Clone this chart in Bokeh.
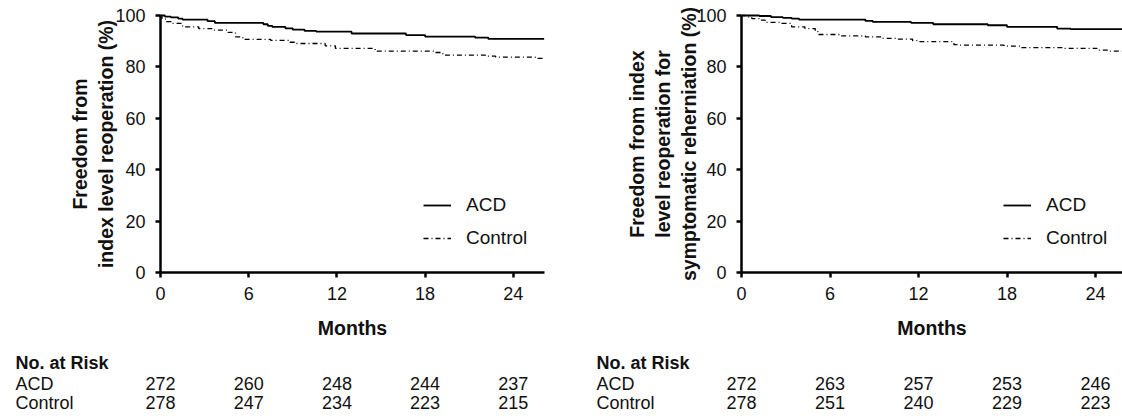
from bokeh.plotting import figure
from bokeh.models import Range1d, Legend, LegendItem, ColumnDataSource
from bokeh.layouts import row
from bokeh.core.properties import value
from bokeh.embed import file_html
from bokeh.resources import INLINE

# ---------------- data ----------------
months_ticks = [0, 6, 12, 18, 24]
y_ticks = [0, 20, 40, 60, 80, 100]

# Panel A: freedom from index level reoperation (%)
a_acd_t = [0, 0.3, 0.7, 1.2, 1.5, 3.2, 3.7, 7.0, 7.3, 7.6, 8.5, 9.0, 9.8, 10.6, 13.0, 16.7, 18.0, 21.4, 22.3, 26.1]
a_acd_s = [100, 99.6, 99.3, 98.8, 98.4, 97.8, 97.1, 96.6, 96.0, 95.6, 95.0, 94.5, 94.0, 93.7, 93.0, 92.4, 91.8, 91.4, 90.9, 90.9]
a_ctl_t = [0, 0.1, 0.4, 0.8, 1.5, 2.6, 3.5, 4.6, 5.1, 5.6, 7.5, 8.8, 9.2, 11.2, 11.9, 14.6, 18.6, 19.2, 22.1, 22.8, 25.5, 26.1]
a_ctl_s = [100, 98.6, 97.6, 96.9, 95.6, 94.9, 94.3, 93.4, 91.7, 90.7, 90.3, 89.6, 89.1, 88.2, 87.2, 86.1, 85.6, 84.6, 84.2, 83.8, 83.3, 83.3]
a_risk_acd = [272, 260, 248, 244, 237]
a_risk_ctl = [278, 247, 234, 223, 215]

# Panel B: freedom from index level reoperation for symptomatic reherniation (%)
b_acd_t = [0, 1.2, 2.0, 2.8, 3.4, 3.9, 8.4, 8.9, 11.5, 13.0, 16.7, 18.0, 21.4, 22.3, 25.9]
b_acd_s = [100, 99.8, 99.4, 99.1, 98.8, 98.4, 97.9, 97.5, 97.1, 96.6, 96.2, 95.6, 94.9, 94.7, 94.7]
b_ctl_t = [0, 0.3, 0.7, 1.2, 1.6, 2.6, 3.4, 4.3, 5.0, 5.2, 6.6, 8.4, 9.5, 10.6, 11.6, 12.1, 14.4, 14.8, 17.8, 18.9, 21.8, 24.1, 25.0, 25.9]
b_ctl_s = [100, 99.5, 98.8, 98.2, 97.3, 96.9, 95.6, 94.9, 93.7, 92.6, 92.1, 91.7, 91.1, 90.8, 90.2, 89.8, 88.7, 88.5, 88.1, 87.5, 87.2, 86.5, 86.1, 86.1]
b_risk_acd = [272, 263, 257, 253, 246]
b_risk_ctl = [278, 251, 240, 229, 223]

series_names = ["ACD", "Control"]
risk_header = "No. at Risk"
x_label = "Months"

FONT = "Liberation Sans"
TXT = "#111111"

H = 416          # figure height (px)
Y0_PX = 272      # pixel row of y = 0
Y_SCALE = 2.57   # px per percentage point


def make_panel(width, origin_px, x_scale, axis_end, ylabel, ylabel_standoff,
               acd_t, acd_s, ctl_t, ctl_s, risk_acd, risk_ctl, legend_x):
    x0 = -origin_px / x_scale
    x1 = (width - origin_px) / x_scale
    y_top = Y0_PX / Y_SCALE
    y_bot = -(H - Y0_PX) / Y_SCALE
    p = figure(width=width, height=H, output_backend="svg", toolbar_location=None,
               x_range=Range1d(x0, x1), y_range=Range1d(y_bot, y_top),
               min_border=0, min_border_left=0, min_border_right=0,
               min_border_top=0, min_border_bottom=0)
    p.outline_line_color = None
    p.xgrid.visible = False
    p.ygrid.visible = False

    r1 = p.step(acd_t, acd_s, mode="after", line_color="black", line_width=1.8)
    r2 = p.step(ctl_t, ctl_s, mode="after", line_color="black", line_width=1.3,
                line_dash="5 3 1 3")

    for ax in (p.xaxis, p.yaxis):
        ax.fixed_location = 0
        ax.axis_line_width = 2.5
        ax.axis_line_color = "black"
        ax.major_tick_line_width = 2.5
        ax.major_tick_line_color = "black"
        ax.major_tick_out = 5
        ax.major_tick_in = 0
        ax.minor_tick_line_color = None
        ax.major_label_text_font = FONT
        ax.major_label_text_font_size = "18px"
        ax.major_label_text_color = TXT
        ax.axis_label_text_font = FONT
        ax.axis_label_text_font_style = "bold"
        ax.axis_label_text_font_size = "19.5px"
        ax.axis_label_text_color = TXT
    p.xaxis.bounds = (0, axis_end)
    p.yaxis.bounds = (0, 100)
    p.xaxis.ticker = months_ticks
    p.yaxis.ticker = y_ticks
    p.xaxis.major_label_standoff = 9
    p.yaxis.major_label_standoff = 10
    p.xaxis.axis_label = x_label
    p.xaxis.axis_label_standoff = 14
    p.yaxis.axis_label = ylabel
    p.yaxis.axis_label_standoff = ylabel_standoff

    legend = Legend(items=[LegendItem(label=series_names[0], renderers=[r1]),
                           LegendItem(label=series_names[1], renderers=[r2])],
                    location=(legend_x, H - 249))
    legend.border_line_color = None
    legend.background_fill_alpha = 0
    legend.padding = 0
    legend.margin = 0
    legend.glyph_width = 28
    legend.glyph_height = 20
    legend.label_height = 20
    legend.label_standoff = 15
    legend.spacing = 11
    legend.label_text_font = FONT
    legend.label_text_font_size = "19px"
    legend.label_text_color = TXT
    p.add_layout(legend)

    # number-at-risk table under the time axis
    rows_y = [(Y0_PX - r) / Y_SCALE for r in (362, 383, 402)]
    row_x = (origin_px - 145 - origin_px) / x_scale
    p.text(x=[row_x], y=[rows_y[0]], text=[risk_header], text_font=value(FONT),
           text_font_size=value("18px"), text_font_style="bold", text_color=TXT,
           text_baseline="middle", text_align="left")
    p.text(x=[row_x, row_x], y=rows_y[1:], text=series_names, text_font=value(FONT),
           text_font_size=value("18px"), text_color=TXT,
           text_baseline="middle", text_align="left")
    src = ColumnDataSource(dict(
        x=months_ticks + months_ticks,
        y=[rows_y[1]] * len(months_ticks) + [rows_y[2]] * len(months_ticks),
        txt=[str(v) for v in risk_acd] + [str(v) for v in risk_ctl]))
    p.text(x="x", y="y", text="txt", source=src, text_font=value(FONT),
           text_font_size=value("18px"), text_color=TXT,
           text_baseline="middle", text_align="center")
    return p


p1 = make_panel(586, 160, 14.7, 384 / 14.7, "Freedom from\nindex level reoperation (%)", -5,
                a_acd_t, a_acd_s, a_ctl_t, a_ctl_s, a_risk_acd, a_risk_ctl, 423)
p2 = make_panel(536, 155, 14.75, 381 / 14.75,
                "Freedom from index\nlevel reoperation for\nsymptomatic reherniation (%)", -7,
                b_acd_t, b_acd_s, b_ctl_t, b_ctl_s, b_risk_acd, b_risk_ctl, 417)

layout = row(p1, p2)
open("out.html", "w").write(file_html(layout, INLINE))
